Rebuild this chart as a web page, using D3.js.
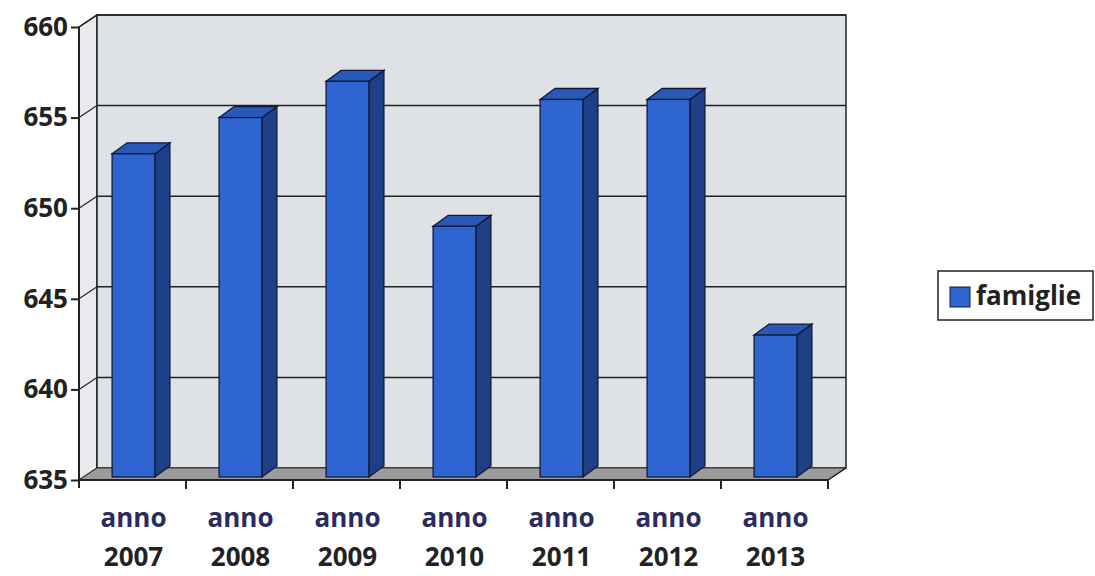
<!DOCTYPE html>
<html>
<head>
<meta charset="utf-8">
<script src="https://cdn.jsdelivr.net/npm/d3@7"></script>
<style>
  body { margin: 0; background: #fff; }
  svg { display: block; }
</style>
</head>
<body>
<svg id="chart"></svg>
<script>
// data
var years = ["2007", "2008", "2009", "2010", "2011", "2012", "2013"];
var famiglie = [653, 655, 657, 649, 656, 656, 643];
var yTicks = [635, 640, 645, 650, 655, 660];
var seriesName = "famiglie";

var width = 1095, height = 576;
var depthX = 18, depthY = -12;   // wall depth offset
var barDX = 15, barDY = -11;     // bar depth offset

var svg = d3.select("#chart")
  .attr("width", width)
  .attr("height", height);

var x = d3.scaleBand()
  .domain(years)
  .range([79, 828])
  .padding(0);

var y = d3.scaleLinear()
  .domain([635, 660])
  .range([480, 27]);

var x0 = x.range()[0], x1 = x.range()[1];
var yTop = y(660), yBot = y(635);

function pts(a) { return a.map(function(p) { return p.join(","); }).join(" "); }

// side wall (left)
svg.append("polygon")
  .attr("points", pts([[x0, yTop], [x0 + depthX, yTop + depthY], [x0 + depthX, yBot + depthY], [x0, yBot]]))
  .attr("fill", "#e8eaee")
  .attr("stroke", "#222")
  .attr("stroke-width", 1.5);

// back wall
svg.append("rect")
  .attr("x", x0 + depthX)
  .attr("y", yTop + depthY)
  .attr("width", x1 - x0)
  .attr("height", yBot - yTop)
  .attr("fill", "#dee1e6")
  .attr("stroke", "#222")
  .attr("stroke-width", 1.5);

// gridlines on back wall + side wall
yTicks.forEach(function(t) {
  if (t === 635) return;
  svg.append("line")
    .attr("x1", x0 + depthX).attr("x2", x1 + depthX)
    .attr("y1", y(t) + depthY).attr("y2", y(t) + depthY)
    .attr("stroke", "#222").attr("stroke-width", 1.5);
  svg.append("line")
    .attr("x1", x0).attr("x2", x0 + depthX)
    .attr("y1", y(t)).attr("y2", y(t) + depthY)
    .attr("stroke", "#222").attr("stroke-width", 1.2);
});

// floor
svg.append("polygon")
  .attr("points", pts([[x0, yBot], [x1, yBot], [x1 + depthX, yBot + depthY], [x0 + depthX, yBot + depthY]]))
  .attr("fill", "#9c9c9c")
  .attr("stroke", "#333")
  .attr("stroke-width", 1);

// bars
var bw = x.bandwidth() * 0.4;
var bars = svg.selectAll(".bar")
  .data(years.map(function(yr, i) { return {year: yr, value: famiglie[i]}; }))
  .enter()
  .append("g")
  .attr("class", "bar");

bars.each(function(d) {
  var g = d3.select(this);
  var bx = x(d.year) + (x.bandwidth() - bw) / 2 + 1;
  var by = y(d.value);
  var base = yBot - 3;
  // side
  g.append("polygon")
    .attr("points", pts([[bx + bw, by], [bx + bw + barDX, by + barDY], [bx + bw + barDX, base + barDY], [bx + bw, base]]))
    .attr("fill", "#1f3f86")
    .attr("stroke", "#111a3a").attr("stroke-width", 1.3);
  // top
  g.append("polygon")
    .attr("points", pts([[bx, by], [bx + barDX, by + barDY], [bx + bw + barDX, by + barDY], [bx + bw, by]]))
    .attr("fill", "#2a58b8")
    .attr("stroke", "#111a3a").attr("stroke-width", 1.3);
  // front
  g.append("rect")
    .attr("x", bx).attr("y", by)
    .attr("width", bw).attr("height", base - by)
    .attr("fill", "#2f65d0")
    .attr("stroke", "#111a3a").attr("stroke-width", 1.3);
});

// front axis lines
svg.append("line")
  .attr("x1", x0).attr("x2", x0)
  .attr("y1", yTop).attr("y2", yBot + 8)
  .attr("stroke", "#222").attr("stroke-width", 2);
svg.append("line")
  .attr("x1", x0).attr("x2", x1)
  .attr("y1", yBot).attr("y2", yBot)
  .attr("stroke", "#222").attr("stroke-width", 2);
svg.append("line")
  .attr("x1", x1).attr("x2", x1 + depthX)
  .attr("y1", yBot).attr("y2", yBot + depthY)
  .attr("stroke", "#222").attr("stroke-width", 1.5);

// y axis ticks + labels
var yAxis = svg.append("g")
  .attr("transform", "translate(" + x0 + ",0)")
  .call(d3.axisLeft(y).tickValues(yTicks).tickSize(8).tickPadding(3).tickFormat(d3.format("d")));
yAxis.select(".domain").remove();
yAxis.selectAll("line").attr("stroke", "#222").attr("stroke-width", 2);
yAxis.selectAll("text")
  .style("font-family", "'Open Sans', sans-serif")
  .style("font-weight", "bold")
  .style("font-size", "26px")
  .attr("fill", "#222");

// x axis ticks
var xAxis = svg.append("g")
  .attr("transform", "translate(0," + yBot + ")");
years.forEach(function(yr) {
  xAxis.append("line")
    .attr("x1", x(yr) + x.bandwidth()).attr("x2", x(yr) + x.bandwidth())
    .attr("y1", 0).attr("y2", 9)
    .attr("stroke", "#222").attr("stroke-width", 2);
});

// x labels
years.forEach(function(yr) {
  var cx = x(yr) + x.bandwidth() / 2 + 1;
  svg.append("text")
    .attr("x", cx).attr("y", 527)
    .attr("text-anchor", "middle")
    .text("anno")
    .style("font-family", "'Open Sans', sans-serif")
    .style("font-weight", "bold")
    .style("font-size", "26px")
    .attr("fill", "#2c2b5e");
  svg.append("text")
    .attr("x", cx).attr("y", 566)
    .attr("text-anchor", "middle")
    .text(yr)
    .style("font-family", "'Open Sans', sans-serif")
    .style("font-weight", "bold")
    .style("font-size", "26px")
    .attr("fill", "#222");
});

// legend
var legend = svg.append("g").attr("transform", "translate(938,271)");
legend.append("rect")
  .attr("width", 155).attr("height", 49)
  .attr("fill", "#fff")
  .attr("stroke", "#222").attr("stroke-width", 1.5);
legend.append("rect")
  .attr("x", 12).attr("y", 16)
  .attr("width", 20).attr("height", 20)
  .attr("fill", "#2f65d0")
  .attr("stroke", "#111a3a").attr("stroke-width", 1);
legend.append("text")
  .attr("x", 38).attr("y", 34)
  .text(seriesName)
  .style("font-family", "'Open Sans', sans-serif")
  .style("font-weight", "bold")
  .style("font-size", "26px")
  .attr("fill", "#222");
</script>
</body>
</html>
